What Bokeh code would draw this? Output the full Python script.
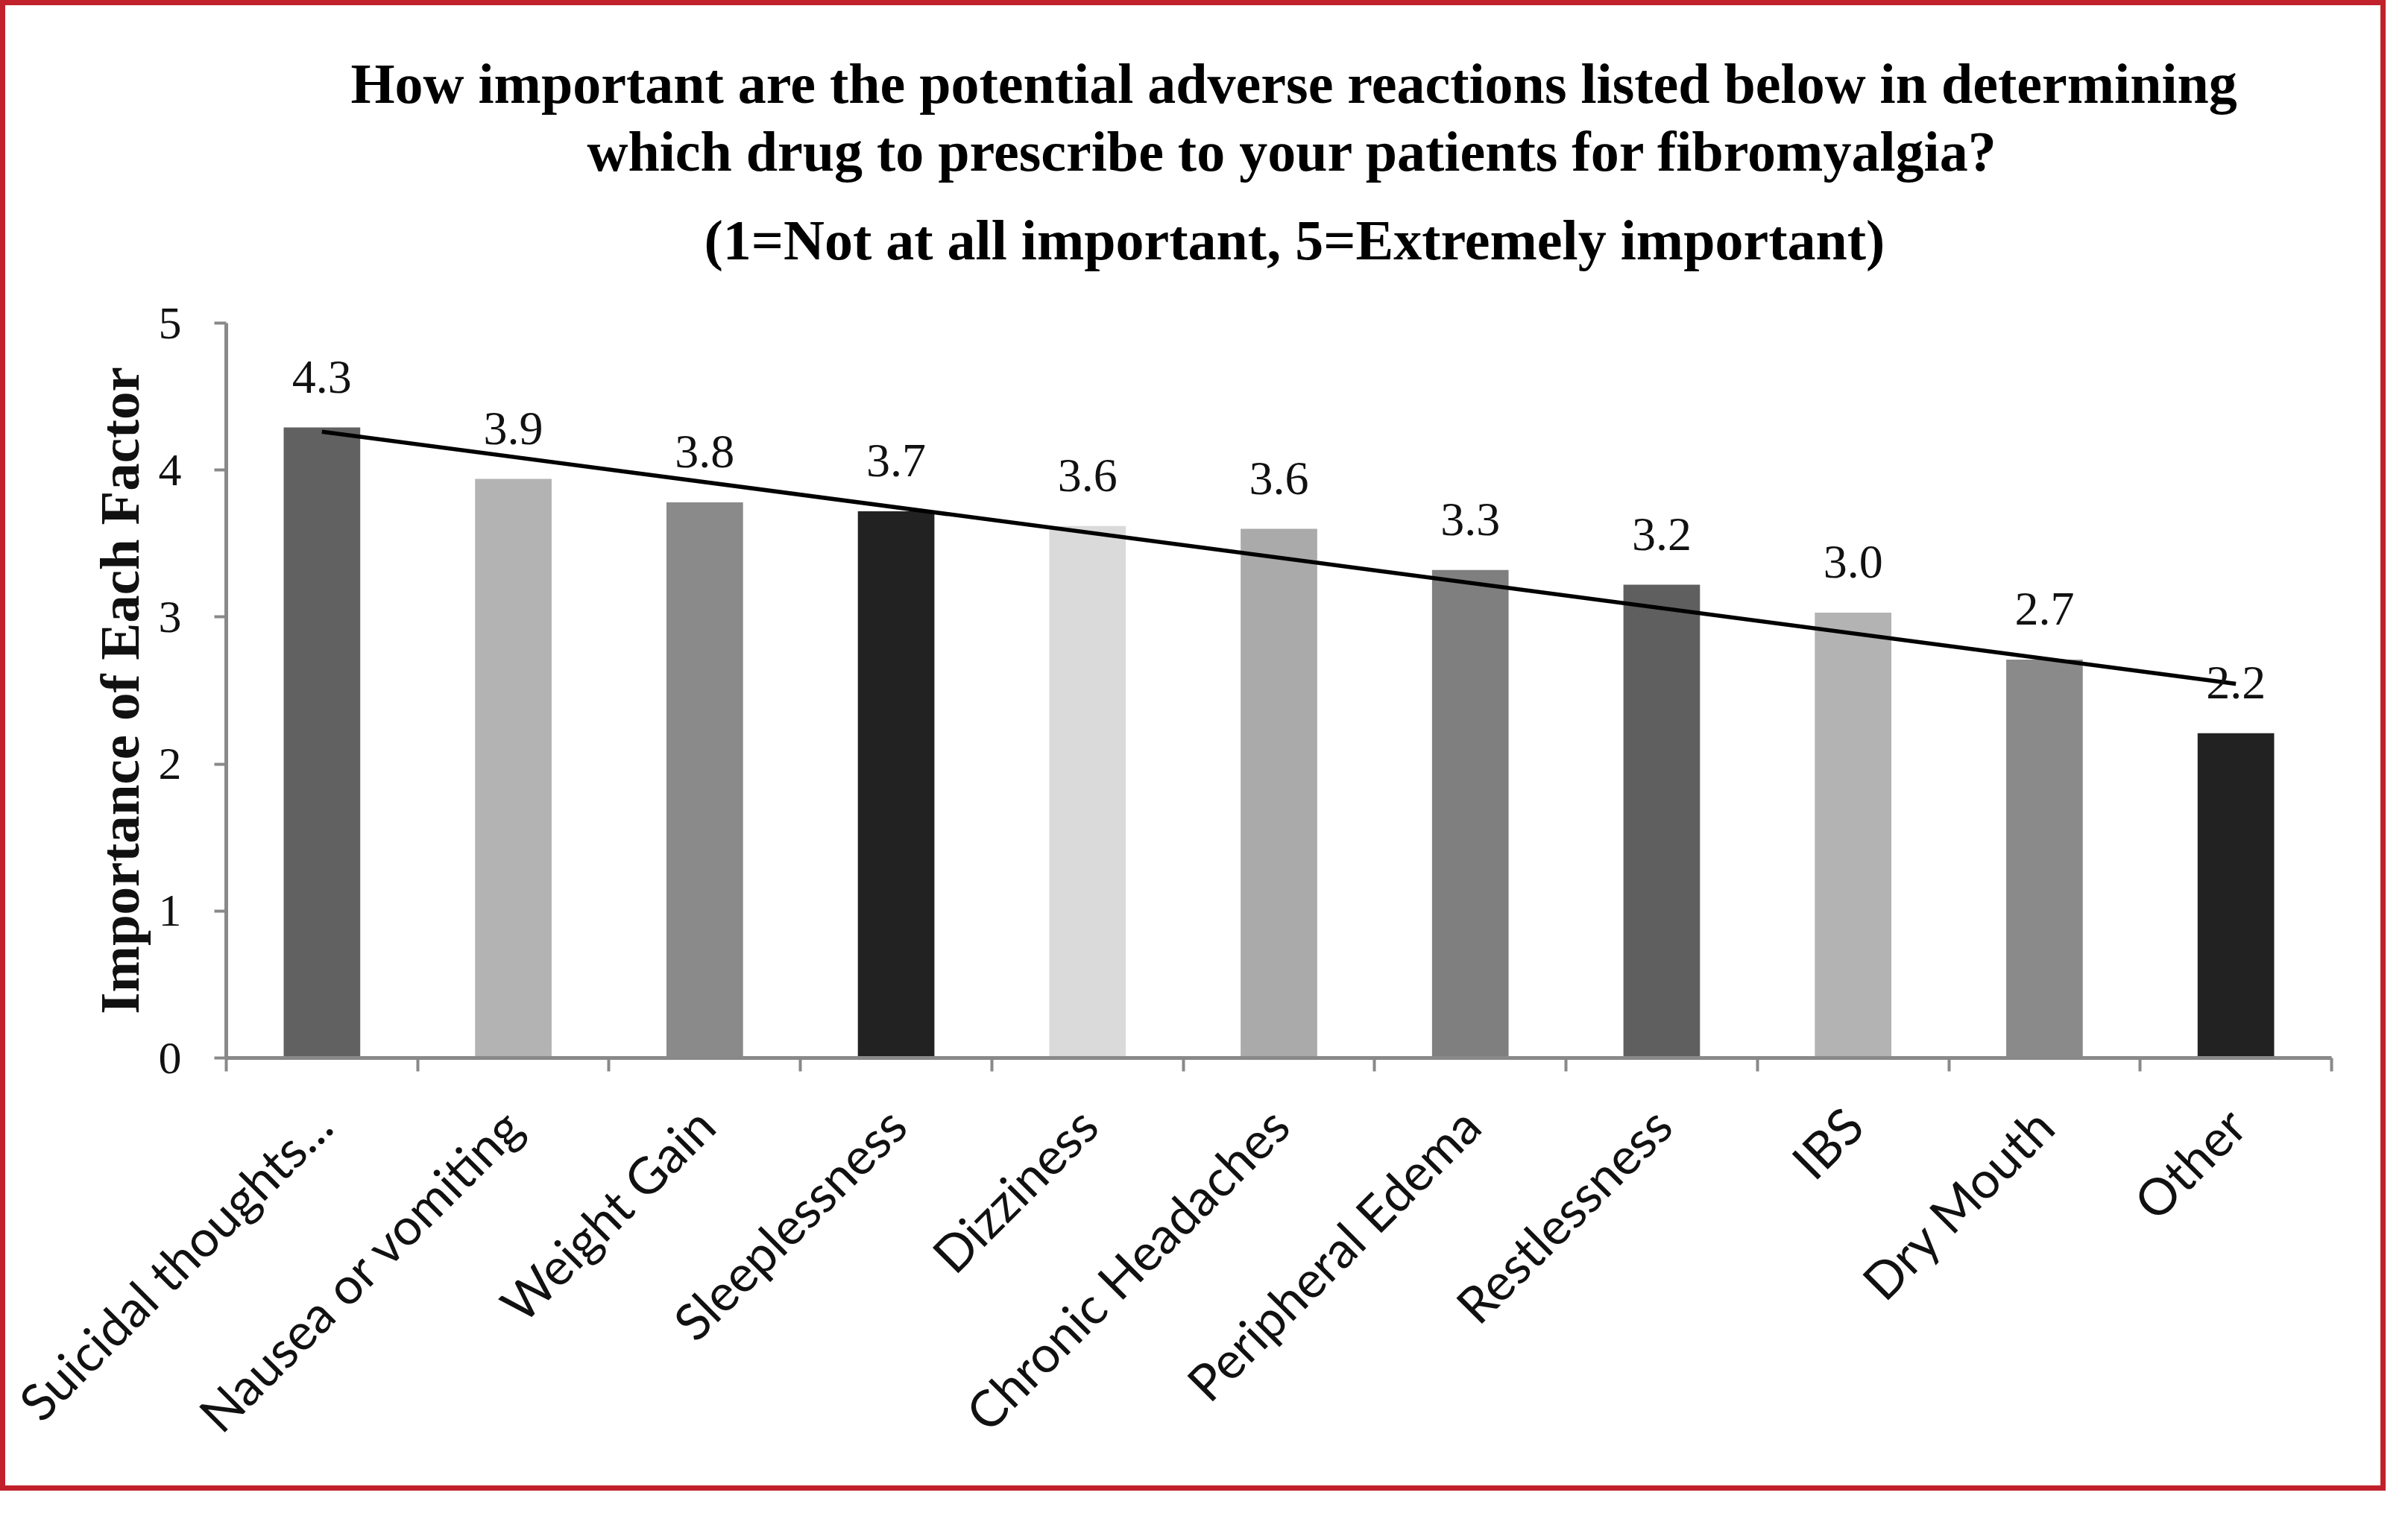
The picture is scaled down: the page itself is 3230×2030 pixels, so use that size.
from bokeh.plotting import figure
from bokeh.models import Range1d, FixedTicker, Title, ColumnDataSource
from bokeh.core.properties import value
from bokeh.embed import file_html
from bokeh.resources import INLINE
import math

categories = ["Suicidal thoughts...", "Nausea or vomiting", "Weight Gain", "Sleeplessness",
              "Dizziness", "Chronic Headaches", "Peripheral Edema", "Restlessness",
              "IBS", "Dry Mouth", "Other"]
importance = [4.29, 3.94, 3.78, 3.72, 3.62, 3.60, 3.32, 3.22, 3.03, 2.71, 2.21]
bar_colors = ["#616161", "#b3b3b3", "#8a8a8a", "#222222", "#dadada", "#aaaaaa",
              "#7f7f7f", "#5f5f5f", "#b3b3b3", "#8a8a8a", "#222222"]
y_ticks = [0, 1, 2, 3, 4, 5]

title_lines = ["How important are the potential adverse reactions listed below in determining",
               "which drug to prescribe to your patients for fibromyalgia?",
               "(1=Not at all important, 5=Extremely important)"]

xs = list(range(1, len(categories) + 1))
labels = [f"{v:.1f}" for v in importance]

# linear trendline (least squares)
n = len(xs)
mx = sum(xs) / n
my = sum(importance) / n
slope = sum((x - mx) * (y - my) for x, y in zip(xs, importance)) / sum((x - mx) ** 2 for x in xs)
icpt = my - slope * mx
trend_x = [xs[0], xs[-1]]
trend_y = [icpt + slope * xs[0], icpt + slope * xs[-1]]

SERIF = "Liberation Serif"
SANS = "Lato"
AXIS_GRAY = "#898989"
TXT = "#111111"

p = figure(width=3200, height=2000, output_backend="svg", toolbar_location=None,
           x_range=Range1d(0.5, len(categories) + 0.5), y_range=Range1d(0, 5),
           min_border_left=296, min_border_right=80, min_border_top=426, min_border_bottom=588)
p.title = None
p.styles = {"border": "7px solid #C1212B"}
p.background_fill_color = "white"
p.border_fill_color = "white"
p.outline_line_color = None
p.xgrid.visible = False
p.ygrid.visible = False

# titles, added closest-to-plot first (left aligned with offsets to centre them like the original)
for txt, so, off in zip([title_lines[2], title_lines[1], title_lines[0]],
                        [140, -74, 84], [641, 484, 167]):
    p.add_layout(Title(text=txt, align="left", offset=off, text_font=SERIF, text_font_size="76px",
                       text_font_style="bold", text_color="black", standoff=so), "above")

src = ColumnDataSource(dict(x=xs, top=importance, color=bar_colors, label=labels))
p.vbar(x="x", top="top", width=0.4, fill_color="color", line_color=None, source=src)
p.line(trend_x, trend_y, line_color="black", line_width=5.5)
p.text(x="x", y="top", text="label", source=src, text_align="center", text_baseline="alphabetic",
       y_offset=-68, text_font=value(SERIF), text_font_size="64px", text_color=TXT)

# x axis: labels at bar centres, tick marks between categories
xa = p.xaxis[0]
xa.ticker = FixedTicker(ticks=xs, minor_ticks=[x - 0.5 for x in xs] + [xs[-1] + 0.5])
xa.major_label_overrides = {x: c for x, c in zip(xs, categories)}
xa.major_label_orientation = math.pi / 4
xa.major_label_text_font = SANS
xa.major_label_text_font_size = "68px"
xa.major_label_text_color = TXT
xa.major_label_standoff = 60
xa.major_tick_out = 0
xa.major_tick_in = 0
xa.minor_tick_out = 18
xa.minor_tick_in = 0
xa.minor_tick_line_color = AXIS_GRAY
xa.minor_tick_line_width = 4
xa.axis_line_color = AXIS_GRAY
xa.axis_line_width = 5

# y axis
ya = p.yaxis[0]
ya.ticker = FixedTicker(ticks=y_ticks)
ya.axis_label = "Importance of Each Factor"
ya.axis_label_text_font = SERIF
ya.axis_label_text_font_size = "75px"
ya.axis_label_text_font_style = "bold"
ya.axis_label_text_color = TXT
ya.axis_label_standoff = 8
ya.major_label_text_font = SERIF
ya.major_label_text_font_size = "62px"
ya.major_label_text_color = TXT
ya.major_label_standoff = 44
ya.major_tick_out = 16
ya.major_tick_in = 0
ya.major_tick_line_color = AXIS_GRAY
ya.major_tick_line_width = 4
ya.minor_tick_line_color = None
ya.axis_line_color = AXIS_GRAY
ya.axis_line_width = 5

open("out.html", "w").write(file_html(p, INLINE))
